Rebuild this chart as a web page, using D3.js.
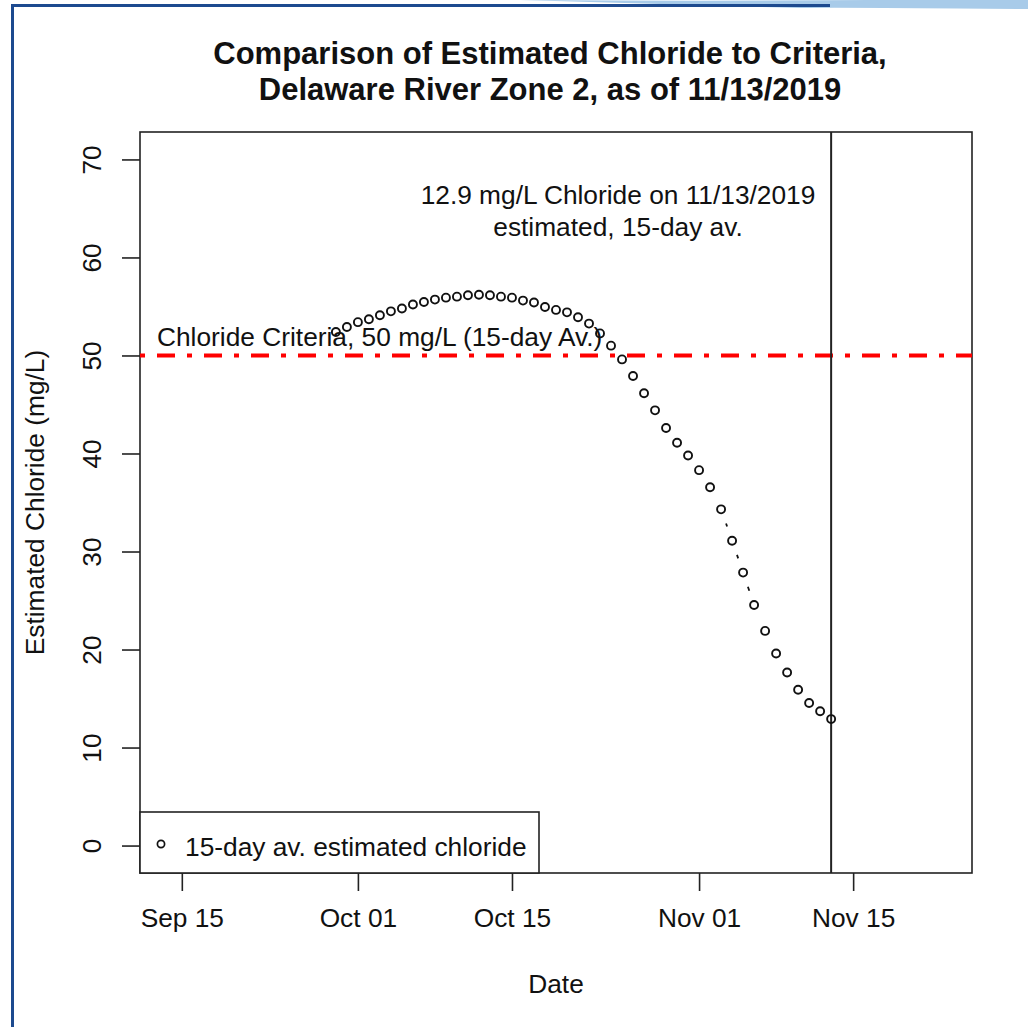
<!DOCTYPE html>
<html>
<head>
<meta charset="utf-8">
<script src="https://cdn.jsdelivr.net/npm/d3@7"></script>
<style>
  html, body { margin: 0; padding: 0; background: #ffffff; }
  svg { display: block; }
  text { font-family: "Liberation Sans", Arial, sans-serif; fill: #111; }
</style>
</head>
<body>
<svg id="chart" width="1028" height="1027"></svg>
<script>
// ---- data ----
const dates = [
  "2019-09-29","2019-09-30","2019-10-01","2019-10-02","2019-10-03","2019-10-04","2019-10-05",
  "2019-10-06","2019-10-07","2019-10-08","2019-10-09","2019-10-10","2019-10-11","2019-10-12",
  "2019-10-13","2019-10-14","2019-10-15","2019-10-16","2019-10-17","2019-10-18","2019-10-19",
  "2019-10-20","2019-10-21","2019-10-22","2019-10-23","2019-10-24","2019-10-25","2019-10-26",
  "2019-10-27","2019-10-28","2019-10-29","2019-10-30","2019-10-31","2019-11-01","2019-11-02",
  "2019-11-03","2019-11-04","2019-11-05","2019-11-06","2019-11-07","2019-11-08","2019-11-09",
  "2019-11-10","2019-11-11","2019-11-12","2019-11-13"
];
const chloride = [
  52.4, 52.9, 53.4, 53.7, 54.1, 54.5, 54.8,
  55.2, 55.45, 55.7, 55.9, 56.0, 56.15, 56.2,
  56.15, 56.0, 55.9, 55.6, 55.4, 54.95, 54.65,
  54.4, 53.9, 53.25, 52.25, 51.0, 49.6, 47.9,
  46.15, 44.4, 42.6, 41.1, 39.8, 38.3, 36.55,
  34.3, 31.1, 27.85, 24.55, 21.9, 19.6, 17.65,
  15.9, 14.55, 13.7, 12.9
];
const xLimits = ["2019-09-14", "2019-11-23"];
const yLimits = [0, 70];
const xTickDates = ["2019-09-15", "2019-10-01", "2019-10-15", "2019-11-01", "2019-11-15"];
const xTickLabels = ["Sep 15", "Oct 01", "Oct 15", "Nov 01", "Nov 15"];
const yTickValues = [0, 10, 20, 30, 40, 50, 60, 70];
const criterionValue = 50;
const latestDate = "2019-11-13";
const titleLines = ["Comparison of Estimated Chloride to Criteria,", "Delaware River Zone 2, as of 11/13/2019"];
const annotationLines = ["12.9 mg/L Chloride on 11/13/2019", "estimated, 15-day av."];
const criterionLabel = "Chloride Criteria, 50 mg/L (15-day Av.)";
const legendLabel = "15-day av. estimated chloride";
const xTitle = "Date";
const yTitle = "Estimated Chloride (mg/L)";

// ---- setup ----
const parse = d3.utcParse("%Y-%m-%d");
const svg = d3.select("#chart");
const W = 1028, H = 1027;
const plot = { left: 140, right: 972, top: 132, bottom: 873 };
const FS = 26.3;

// frame decoration
svg.append("path")
  .attr("d", "M 520 0 Q 800 2 1028 -2 L 1028 9 Q 820 7 800 8 Z")
  .attr("fill", "#a8cbe9");
svg.append("line").attr("x1", 12).attr("x2", 830).attr("y1", 5.5).attr("y2", 5.5)
  .attr("stroke", "#1d4a8f").attr("stroke-width", 3);
svg.append("line").attr("x1", 12.5).attr("x2", 12.5).attr("y1", 4).attr("y2", H)
  .attr("stroke", "#1d4a8f").attr("stroke-width", 3);

// scales with R-style 4% expansion
const x0 = parse(xLimits[0]).getTime(), x1 = parse(xLimits[1]).getTime();
const xPad = (x1 - x0) * 0.04;
const x = d3.scaleUtc()
  .domain([new Date(x0 - xPad), new Date(x1 + xPad)])
  .range([plot.left, plot.right]);
const yPad = (yLimits[1] - yLimits[0]) * 0.04;
const y = d3.scaleLinear()
  .domain([yLimits[0] - yPad, yLimits[1] + yPad])
  .range([plot.bottom, plot.top]);

// axes
const xAxis = d3.axisBottom(x)
  .tickValues(xTickDates.map(parse))
  .tickFormat((d, i) => xTickLabels[i])
  .tickSize(18).tickPadding(17);
const gx = svg.append("g").attr("transform", `translate(0,${plot.bottom})`).call(xAxis);
gx.select(".domain").remove();
gx.selectAll(".tick line").attr("stroke", "#222").attr("stroke-width", 1.6);
gx.selectAll(".tick text").attr("font-size", FS).attr("fill", "#111")
  .style("font-family", "'Liberation Sans', Arial, sans-serif");

const yAxis = d3.axisLeft(y).tickValues(yTickValues).tickSize(18).tickFormat(d3.format("d"));
const gy = svg.append("g").attr("transform", `translate(${plot.left},0)`).call(yAxis);
gy.select(".domain").remove();
gy.selectAll(".tick line").attr("stroke", "#222").attr("stroke-width", 1.6);
gy.selectAll(".tick text")
  .attr("font-size", FS).attr("fill", "#111")
  .attr("x", 0).attr("dy", 0)
  .attr("text-anchor", "middle")
  .attr("transform", "translate(-39,0) rotate(-90)")
  .style("font-family", "'Liberation Sans', Arial, sans-serif");

// plot box
svg.append("rect")
  .attr("x", plot.left).attr("y", plot.top)
  .attr("width", plot.right - plot.left).attr("height", plot.bottom - plot.top)
  .attr("fill", "none").attr("stroke", "#222").attr("stroke-width", 1.6);

// criterion line
svg.append("line")
  .attr("x1", plot.left).attr("x2", plot.right)
  .attr("y1", y(criterionValue)).attr("y2", y(criterionValue))
  .attr("stroke", "#ff0000").attr("stroke-width", 4)
  .attr("stroke-dasharray", "5 12 18 12");

// latest date vertical line
svg.append("line")
  .attr("x1", x(parse(latestDate))).attr("x2", x(parse(latestDate)))
  .attr("y1", plot.top).attr("y2", plot.bottom)
  .attr("stroke", "#222").attr("stroke-width", 2);

// points with R type="b" gapped connecting segments
const pts = dates.map((d, i) => [x(parse(d)), y(chloride[i])]);
const gap = 15;
const segs = [];
for (let i = 0; i < pts.length - 1; i++) {
  const [ax, ay] = pts[i], [bx, by] = pts[i + 1];
  const dx = bx - ax, dy = by - ay, dist = Math.hypot(dx, dy);
  if (dist > 2 * gap) {
    const ux = dx / dist, uy = dy / dist;
    segs.push([ax + ux * gap, ay + uy * gap, bx - ux * gap, by - uy * gap]);
  }
}
svg.append("g").selectAll("line").data(segs).join("line")
  .attr("x1", d => d[0]).attr("y1", d => d[1]).attr("x2", d => d[2]).attr("y2", d => d[3])
  .attr("stroke", "#111").attr("stroke-width", 1.8);
svg.append("g").selectAll("circle").data(pts).join("circle")
  .attr("cx", d => d[0]).attr("cy", d => d[1]).attr("r", 4)
  .attr("fill", "none").attr("stroke", "#111").attr("stroke-width", 1.9);

// texts
svg.append("g").selectAll("text").data(titleLines).join("text")
  .attr("x", 550).attr("y", (d, i) => 64 + i * 36)
  .attr("text-anchor", "middle").attr("font-size", 31).attr("font-weight", "bold")
  .text(d => d);

svg.append("g").selectAll("text").data(annotationLines).join("text")
  .attr("x", 618).attr("y", (d, i) => 204 + i * 32)
  .attr("text-anchor", "middle").attr("font-size", FS)
  .text(d => d);

svg.append("text").attr("x", 157).attr("y", 346).attr("font-size", FS).text(criterionLabel);

svg.append("text").attr("x", 556).attr("y", 993).attr("text-anchor", "middle")
  .attr("font-size", FS).text(xTitle);
svg.append("text").attr("transform", `translate(44,${(plot.top + plot.bottom) / 2}) rotate(-90)`)
  .attr("text-anchor", "middle").attr("font-size", FS).text(yTitle);

// legend
svg.append("rect").attr("x", plot.left).attr("y", 812)
  .attr("width", 539 - plot.left).attr("height", plot.bottom - 812)
  .attr("fill", "#fff").attr("stroke", "#222").attr("stroke-width", 1.6);
svg.append("circle").attr("cx", 161).attr("cy", 844).attr("r", 3.6)
  .attr("fill", "none").attr("stroke", "#111").attr("stroke-width", 1.7);
svg.append("text").attr("x", 185).attr("y", 856).attr("font-size", FS).text(legendLabel);
</script>
</body>
</html>
